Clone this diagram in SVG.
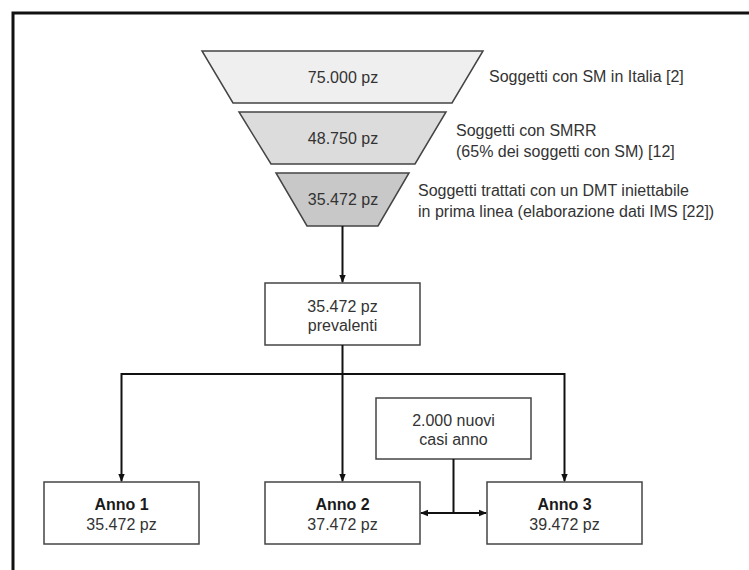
<svg xmlns="http://www.w3.org/2000/svg" width="749" height="570" viewBox="0 0 749 570">
<defs>
<marker id="ah" markerWidth="8" markerHeight="8" refX="7" refY="4" orient="auto" markerUnits="userSpaceOnUse">
<path d="M0,0.8 L8,4 L0,7.2 Z" fill="#111"/>
</marker>
<marker id="ahs" markerWidth="8" markerHeight="8" refX="1" refY="4" orient="auto" markerUnits="userSpaceOnUse">
<path d="M8,0.8 L0,4 L8,7.2 Z" fill="#111"/>
</marker>
</defs>
<style>
text{font-family:"Liberation Sans",Arial,sans-serif;font-size:16px;fill:#333}
.c{text-anchor:middle}
.b{font-weight:bold;fill:#1a1a1a}
.box{fill:#fff;stroke:#444;stroke-width:1.5}
.fun{stroke:#444;stroke-width:1.5}
.con{fill:none;stroke:#111;stroke-width:2}
</style>
<rect width="749" height="570" fill="#fff"/>
<path d="M13,570 V13 H749" fill="none" stroke="#111" stroke-width="3"/>
<g id="funnel1">
<polygon class="fun" points="202,51 483,51 452,103 233,103" fill="#efefef"/>
<text class="c" x="343" y="83">75.000 pz</text>
<text x="489" y="82">Soggetti con SM in Italia [2]</text>
</g>
<g id="funnel2">
<polygon class="fun" points="239,112 446,112 415,164 271,164" fill="#dcdcdc"/>
<text class="c" x="343" y="144">48.750 pz</text>
<text x="456" y="136">Soggetti con SMRR</text>
<text x="456" y="157">(65% dei soggetti con SM) [12]</text>
</g>
<g id="funnel3">
<polygon class="fun" points="276,173 409,173 378,226 307,226" fill="#c8c8c8"/>
<text class="c" x="343" y="205">35.472 pz</text>
<text x="418" y="196">Soggetti trattati con un DMT iniettabile</text>
<text x="418" y="217">in prima linea (elaborazione dati IMS [22])</text>
</g>
<g id="prevalenti">
<rect class="box" x="265" y="283" width="155" height="62"/>
<text class="c" x="342.5" y="312">35.472 pz</text>
<text class="c" x="342.5" y="331">prevalenti</text>
</g>
<g id="nuovi">
<rect class="box" x="376" y="398" width="155" height="61"/>
<text class="c" x="453.5" y="426">2.000 nuovi</text>
<text class="c" x="453.5" y="445">casi anno</text>
</g>
<g id="anno1">
<rect class="box" x="44" y="482" width="155" height="62"/>
<text class="c b" x="121.5" y="510">Anno 1</text>
<text class="c" x="121.5" y="530">35.472 pz</text>
</g>
<g id="anno2">
<rect class="box" x="265" y="482" width="155" height="62"/>
<text class="c b" x="342.5" y="510">Anno 2</text>
<text class="c" x="342.5" y="530">37.472 pz</text>
</g>
<g id="anno3">
<rect class="box" x="487" y="482" width="155" height="62"/>
<text class="c b" x="564.5" y="510">Anno 3</text>
<text class="c" x="564.5" y="530">39.472 pz</text>
</g>
<g id="connectors">
<path class="con" d="M342.5,226 V282" marker-end="url(#ah)"/>
<path class="con" d="M342.5,345 V481" marker-end="url(#ah)"/>
<path class="con" d="M121.5,374 H564.5"/>
<path class="con" d="M121.5,373 V481" marker-end="url(#ah)"/>
<path class="con" d="M564.5,373 V481" marker-end="url(#ah)"/>
<path class="con" d="M453.5,459 V513"/>
<path class="con" d="M421,513 H486" marker-start="url(#ahs)" marker-end="url(#ah)"/>
</g>
</svg>
